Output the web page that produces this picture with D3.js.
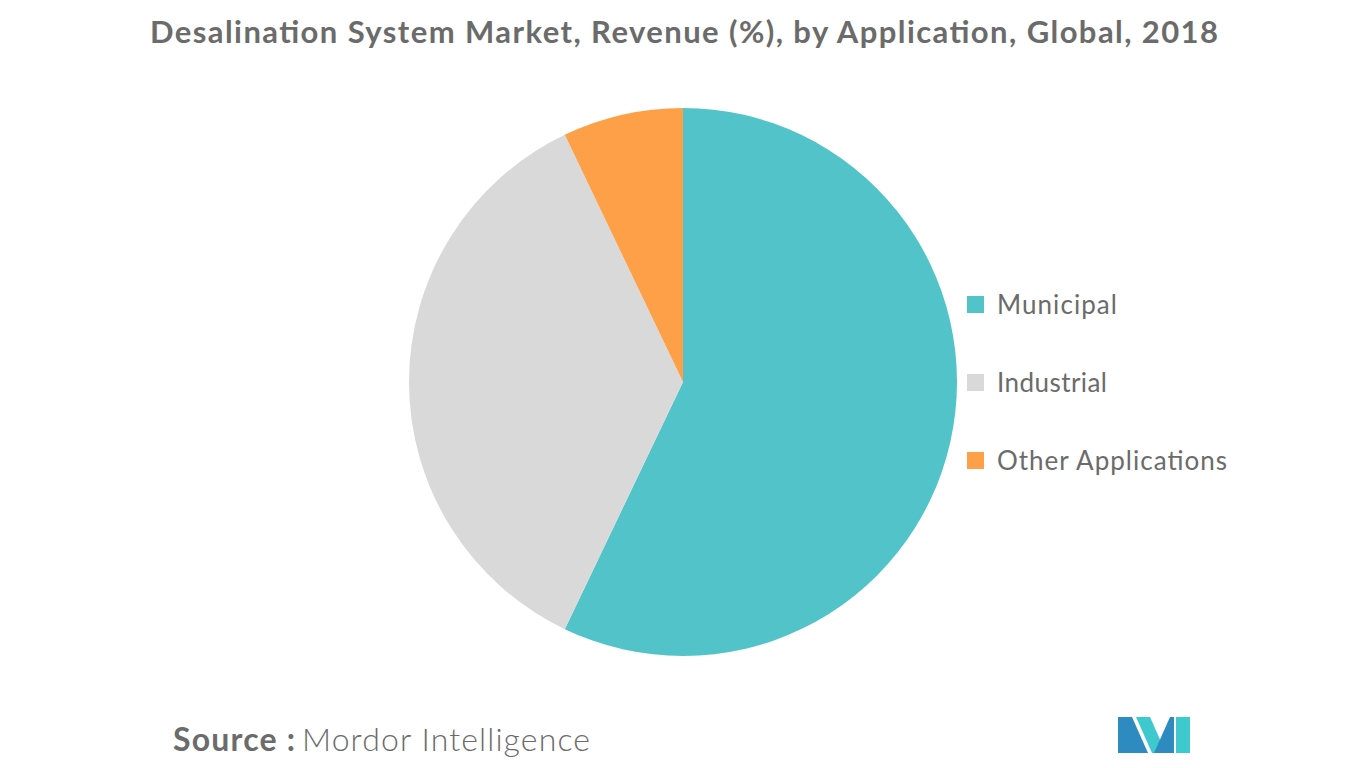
<!DOCTYPE html>
<html>
<head>
<meta charset="utf-8">
<script src="https://cdn.jsdelivr.net/npm/d3@7"></script>
<style>
  body { margin: 0; background: #fff; }
  text { font-family: Lato, "Open Sans", sans-serif; }
</style>
</head>
<body>
<svg id="chart" width="1366" height="768"></svg>
<script>
// -- data --
const categories = ['Municipal', 'Industrial', 'Other Applications'];
const shares = [57.1, 35.8, 7.1];
const colors = ['#52c4c9', '#d9d9d9', '#fda048'];
const legendWidths = [120, 110, 230];

const svg = d3.select('#chart');

svg.append('text')
  .attr('x', 150).attr('y', 43)
  .attr('font-size', 31).attr('font-weight', 'bold')
  .attr('fill', '#6b6b6b')
  .attr('textLength', 1068).attr('lengthAdjust', 'spacing')
  .text('Desalination System Market, Revenue (%), by Application, Global, 2018');

// -- pie --
const pie = d3.pie().sort(null).value(d => d);
const arc = d3.arc().innerRadius(0).outerRadius(274);

svg.append('g')
  .attr('transform', 'translate(683,382)')
  .selectAll('path')
  .data(pie(shares))
  .join('path')
  .attr('d', arc)
  .attr('fill', (d, i) => colors[i]);

// -- legend --
const legend = svg.append('g').attr('transform', 'translate(967,305)');
const row = legend.selectAll('g').data(categories).join('g')
  .attr('transform', (d, i) => `translate(0,${i * 78})`);
row.append('rect').attr('x', 0).attr('y', -9).attr('width', 17).attr('height', 17)
  .attr('fill', (d, i) => colors[i]);
row.append('text').attr('x', 30).attr('y', 9)
  .attr('font-size', 26).attr('fill', '#6b6b6b')
  .attr('textLength', (d, i) => legendWidths[i]).attr('lengthAdjust', 'spacing')
  .text(d => d);

// -- source --
const src = svg.append('text').attr('x', 173).attr('y', 751).attr('font-size', 32).attr('fill', '#6b6b6b');
src.append('tspan').attr('font-weight', 'bold').attr('textLength', 122).attr('lengthAdjust', 'spacing').text('Source :');
src.append('tspan').attr('x', 302).attr('font-weight', 300).attr('textLength', 288).attr('lengthAdjust', 'spacing').text('Mordor Intelligence');

// -- logo --
const logo = svg.append('g').attr('transform', 'translate(1118,717)');
logo.append('polygon').attr('points', '0,36 0,0 14,0 30,36').attr('fill', '#2e8bc0');
logo.append('polygon').attr('points', '18,0 32,0 48,36 34,36').attr('fill', '#3ec9cf');
logo.append('polygon').attr('points', '36,36 52,0 56,0 56,36').attr('fill', '#2e8bc0');
logo.append('polygon').attr('points', '58,0 72,0 72,36 58,36').attr('fill', '#3ec9cf');
</script>
</body>
</html>
